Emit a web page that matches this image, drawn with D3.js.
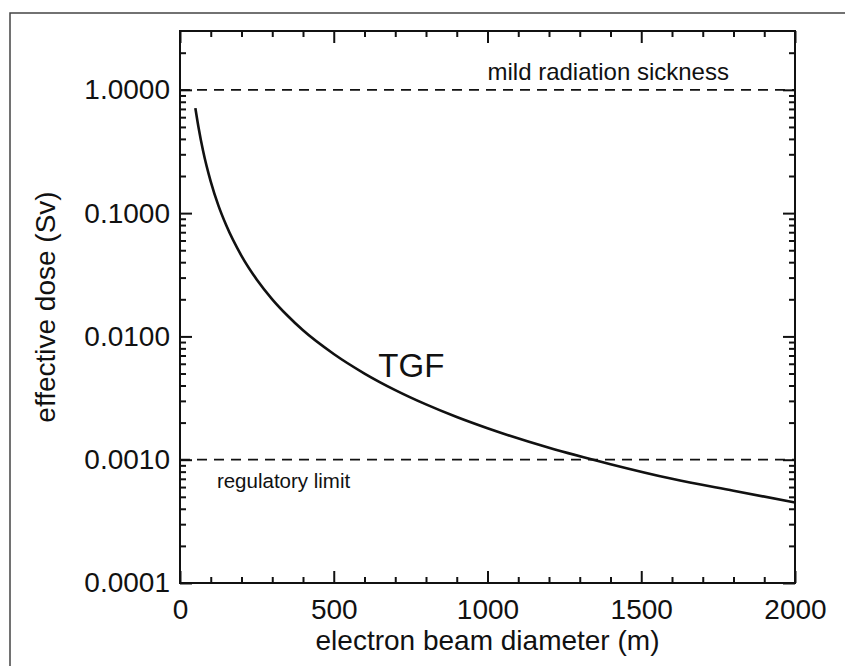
<!DOCTYPE html>
<html>
<head>
<meta charset="utf-8">
<script src="https://cdn.jsdelivr.net/npm/d3@7"></script>
<style>
  body { margin: 0; background: #fff; }
  svg text { font-family: "Liberation Sans", Arial, Helvetica, sans-serif; fill: #111; }
  .tick line { stroke: #111; stroke-width: 2; }
</style>
</head>
<body>
<script>
// values
var diameter = [50, 60, 75, 100, 125, 150, 200, 250, 300, 350, 400, 500, 600, 700, 800, 900, 1000, 1200, 1400, 1600, 1800, 2000];
var dose = [0.71, 0.50, 0.32, 0.18, 0.115, 0.080, 0.045, 0.0288, 0.0200, 0.0147, 0.0112, 0.0072, 0.0050, 0.00367, 0.00281, 0.00222, 0.0018, 0.00125, 0.00092, 0.00070, 0.00056, 0.00045];

var xTicks = [0, 500, 1000, 1500, 2000];
var xMinor = [100, 200, 300, 400, 600, 700, 800, 900, 1100, 1200, 1300, 1400, 1600, 1700, 1800, 1900];
var yTicks = [0.0001, 0.001, 0.01, 0.1, 1];
var yTickLabels = ["0.0001", "0.0010", "0.0100", "0.1000", "1.0000"];

var refLevels = [1, 0.001];
var refLabels = ["mild radiation sickness", "regulatory limit"];

var width = 845,
  height = 666;

var margin = { top: 31, right: 50, bottom: 83, left: 180 };

var svg = d3.select("body").append("svg")
  .attr("width", width)
  .attr("height", height);

// outer frame of the figure
svg.append("rect")
  .attr("x", 10)
  .attr("y", 13)
  .attr("width", width)
  .attr("height", height)
  .attr("fill", "none")
  .attr("stroke", "#444")
  .attr("stroke-width", 1.5);

var x = d3.scaleLinear()
  .domain([0, 2000])
  .range([margin.left, width - margin.right]);

var y = d3.scaleLog()
  .domain([0.0001, 3])
  .range([height - margin.bottom, margin.top]);

// minor ticks on y: 2..9 of each decade
var yMinor = [];
yTicks.forEach(function(dec) {
  for (var k = 2; k <= 9; k++) {
    if (dec * k < 3) yMinor.push(dec * k);
  }
});

var plotBottom = height - margin.bottom,
  plotTop = margin.top,
  plotLeft = margin.left,
  plotRight = width - margin.right;

function noDomain(g) { g.select(".domain").remove(); }

// bottom axis with labels
svg.append("g")
  .attr("transform", "translate(0," + plotBottom + ")")
  .call(d3.axisBottom(x).tickValues(xTicks).tickSizeInner(-12).tickSizeOuter(0).tickPadding(16).tickFormat(d3.format("d")))
  .call(noDomain)
  .selectAll("text").style("font-size", "28px");

svg.append("g")
  .attr("transform", "translate(0," + plotBottom + ")")
  .call(d3.axisBottom(x).tickValues(xMinor).tickSizeInner(-6).tickSizeOuter(0).tickFormat(""))
  .call(noDomain);

// top axis, ticks only
svg.append("g")
  .attr("transform", "translate(0," + plotTop + ")")
  .call(d3.axisTop(x).tickValues(xTicks).tickSizeInner(-12).tickSizeOuter(0).tickFormat(""))
  .call(noDomain);

svg.append("g")
  .attr("transform", "translate(0," + plotTop + ")")
  .call(d3.axisTop(x).tickValues(xMinor).tickSizeInner(-6).tickSizeOuter(0).tickFormat(""))
  .call(noDomain);

// left axis with labels
svg.append("g")
  .attr("transform", "translate(" + plotLeft + ",0)")
  .call(d3.axisLeft(y).tickValues(yTicks).tickSizeInner(-12).tickSizeOuter(0).tickPadding(10)
    .tickFormat(function(d, i) { return yTickLabels[i]; }))
  .call(noDomain)
  .selectAll("text").style("font-size", "28px");

svg.append("g")
  .attr("transform", "translate(" + plotLeft + ",0)")
  .call(d3.axisLeft(y).tickValues(yMinor).tickSizeInner(-6).tickSizeOuter(0).tickFormat(""))
  .call(noDomain);

// right axis, ticks only
svg.append("g")
  .attr("transform", "translate(" + plotRight + ",0)")
  .call(d3.axisRight(y).tickValues(yTicks).tickSizeInner(-12).tickSizeOuter(0).tickFormat(""))
  .call(noDomain);

svg.append("g")
  .attr("transform", "translate(" + plotRight + ",0)")
  .call(d3.axisRight(y).tickValues(yMinor).tickSizeInner(-6).tickSizeOuter(0).tickFormat(""))
  .call(noDomain);

// plot box
svg.append("rect")
  .attr("x", plotLeft)
  .attr("y", plotTop)
  .attr("width", plotRight - plotLeft)
  .attr("height", plotBottom - plotTop)
  .attr("fill", "none")
  .attr("stroke", "#111")
  .attr("stroke-width", 2);

// dashed reference levels
svg.selectAll(".ref")
  .data(refLevels)
  .enter().append("line")
  .attr("class", "ref")
  .attr("x1", plotLeft)
  .attr("x2", plotRight)
  .attr("y1", function(d) { return y(d); })
  .attr("y2", function(d) { return y(d); })
  .attr("stroke", "#111")
  .attr("stroke-width", 1.8)
  .attr("stroke-dasharray", "10,7");

svg.append("text")
  .attr("x", x(1000))
  .attr("y", y(refLevels[0]) - 10)
  .style("font-size", "24px")
  .text(refLabels[0]);

svg.append("text")
  .attr("x", x(120))
  .attr("y", y(refLevels[1]) + 28)
  .style("font-size", "20.5px")
  .text(refLabels[1]);

// the dose curve
var line = d3.line()
  .x(function(d, i) { return x(diameter[i]); })
  .y(function(d) { return y(d); })
  .curve(d3.curveMonotoneX);

svg.append("path")
  .datum(dose)
  .attr("d", line)
  .attr("fill", "none")
  .attr("stroke", "#111")
  .attr("stroke-width", 2.6);

svg.append("text")
  .attr("x", x(645))
  .attr("y", y(0.0047))
  .style("font-size", "33px")
  .text("TGF");

// axis titles
svg.append("text")
  .attr("x", (plotLeft + plotRight) / 2)
  .attr("y", 650)
  .attr("text-anchor", "middle")
  .style("font-size", "28px")
  .text("electron beam diameter (m)");

svg.append("text")
  .attr("transform", "translate(55," + ((plotTop + plotBottom) / 2) + ") rotate(-90)")
  .attr("text-anchor", "middle")
  .style("font-size", "28px")
  .text("effective dose (Sv)");
</script>
</body>
</html>
